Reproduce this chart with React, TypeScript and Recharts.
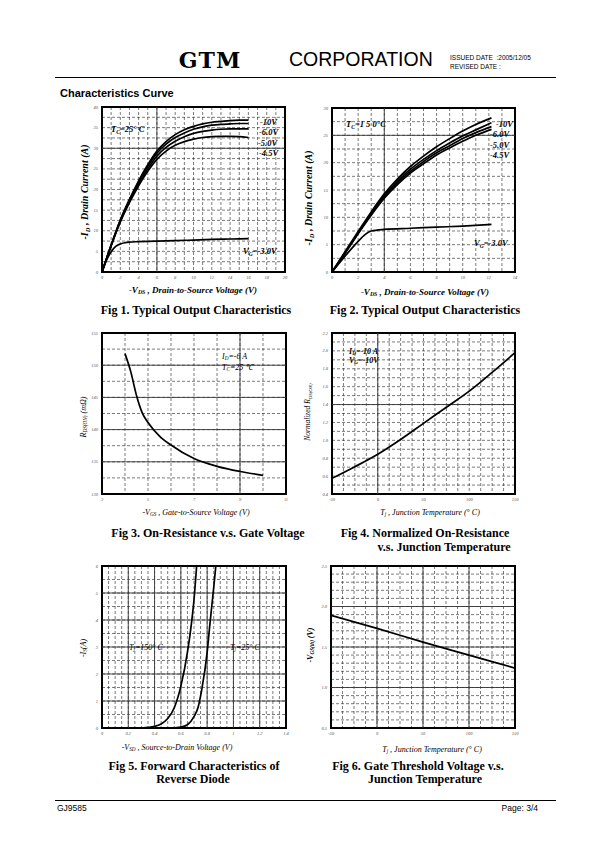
import React from "react";
import {
  LineChart,
  Line,
  XAxis,
  YAxis,
  CartesianGrid,
  ReferenceLine,
  ReferenceArea,
} from "recharts";

// Fig 1 - output characteristics, Tc = 25°C
const fig1Vds = [0, 1, 2, 3, 4, 5, 6, 7, 8, 9, 10, 11, 12, 13, 14, 15, 16];
const fig1Vg10 = [0, 6.5, 12.6, 17.6, 22.1, 26.0, 29.3, 31.6, 33.3, 34.5, 35.3, 35.9, 36.3, 36.5, 36.7, 36.8, 36.8];
const fig1Vg6 = [0, 6.5, 12.5, 17.4, 21.8, 25.6, 28.8, 31.0, 32.6, 33.7, 34.6, 35.2, 35.6, 35.8, 35.9, 36.0, 36.0];
const fig1Vg5 = [0, 6.4, 12.3, 17.1, 21.4, 25.0, 28.1, 30.2, 31.7, 32.8, 33.6, 34.1, 34.4, 34.6, 34.7, 34.7, 34.7];
const fig1Vg45 = [0, 6.4, 12.1, 16.8, 20.9, 24.4, 27.3, 29.3, 30.7, 31.6, 32.2, 32.6, 32.8, 32.9, 32.9, 32.8, 32.6];
const fig1Vg3Vds = [0, 0.5, 1, 1.5, 2, 2.5, 3, 4, 6, 8, 10, 12, 14, 16];
const fig1Vg3 = [0, 2.9, 4.9, 6.2, 6.8, 7.1, 7.25, 7.35, 7.5, 7.6, 7.75, 7.9, 8.0, 8.1];

// Fig 2 - output characteristics, Tc = 150°C
const fig2Vds = [0, 1, 2, 3, 4, 5, 6, 7, 8, 9, 10, 11, 12.2];
const fig2Vg10 = [0, 3.7, 7.4, 11.0, 14.3, 17.0, 19.3, 21.2, 22.9, 24.4, 25.8, 27.0, 28.2];
const fig2Vg6 = [0, 3.6, 7.2, 10.8, 14.0, 16.6, 18.8, 20.6, 22.2, 23.6, 24.9, 26.0, 27.3];
const fig2Vg5 = [0, 3.5, 7.1, 10.6, 13.7, 16.3, 18.4, 20.2, 21.8, 23.1, 24.4, 25.5, 26.6];
const fig2Vg45 = [0, 3.4, 7.0, 10.4, 13.5, 16.0, 18.1, 19.8, 21.4, 22.7, 23.9, 25.0, 26.1];
const fig2Vg3Vds = [0, 1, 2, 2.5, 3, 4, 6, 8, 10, 12.2];
const fig2Vg3 = [0, 2.9, 5.6, 6.8, 7.5, 7.8, 8.0, 8.2, 8.4, 8.7];

// Fig 3 - on-resistance vs gate voltage
const fig3Vgs = [4, 4.25, 4.5, 4.75, 5, 5.5, 6, 7, 8, 9, 10];
const fig3Rds = [151.8, 149.0, 145.3, 142.6, 141.1, 139.0, 137.6, 135.5, 134.3, 133.5, 132.9];

// Fig 4 - normalized on-resistance vs junction temperature
const fig4Tj = [-50, -25, 0, 25, 50, 75, 100, 125, 150];
const fig4Rn = [0.575, 0.705, 0.845, 1.01, 1.19, 1.37, 1.55, 1.76, 1.98];

// Fig 5 - reverse diode forward characteristics
const fig5Vsd150 = [0.3, 0.4, 0.45, 0.5, 0.55, 0.6, 0.65, 0.68, 0.7, 0.72];
const fig5Is150 = [0, 0.06, 0.15, 0.35, 0.75, 1.55, 2.8, 3.85, 4.75, 6.0];
const fig5Vsd25 = [0.53, 0.6, 0.65, 0.7, 0.73, 0.76, 0.8, 0.82, 0.85, 0.866];
const fig5Is25 = [0, 0.03, 0.12, 0.42, 0.75, 1.45, 2.8, 3.8, 5.2, 6.0];

// Fig 6 - gate threshold voltage vs junction temperature
const fig6Tj = [-50, 0, 50, 100, 150];
const fig6Vth = [1.89, 1.73, 1.56, 1.4, 1.24];

const range = (a: number, b: number, step: number) => {
  const out: number[] = [];
  for (let v = a; v <= b + step / 1000; v += step) out.push(Math.round(v * 1000) / 1000);
  return out;
};
const pts = (xs: number[], ys: number[]) => xs.map((x, i) => ({ x, y: ys[i] }));

const YW = 14;
const XH = 12;
const PAD = 4;

const tickStyle = {
  fontSize: 4.5,
  fontFamily: "Liberation Serif",
  fontStyle: "italic",
  fill: "#555",
};

type PlotProps = {
  left: number;
  top: number;
  right: number;
  bottom: number;
  xDomain: [number, number];
  yDomain: [number, number];
  xTicks: number[];
  yTicks: number[];
  xGrid: number[];
  yGrid: number[];
  xSolid?: number[];
  ySolid?: number[];
  xFmt?: (v: number) => string;
  yFmt?: (v: number) => string;
  series: { x: number; y: number }[][];
};

function Plot(p: PlotProps) {
  const w = p.right - p.left + YW + PAD;
  const h = p.bottom - p.top + XH + PAD;
  return (
    <div style={{ position: "absolute", left: p.left - YW, top: p.top - PAD }}>
      <LineChart width={w} height={h} margin={{ top: PAD, right: PAD, left: 0, bottom: 0 }}>
        <CartesianGrid
          stroke="#222"
          strokeWidth={0.6}
          strokeDasharray="3 2"
          horizontalValues={p.yGrid}
          verticalValues={p.xGrid}
        />
        <XAxis
          type="number"
          dataKey="x"
          domain={p.xDomain}
          ticks={p.xTicks}
          interval={0}
          allowDataOverflow
          axisLine={false}
          tickLine={false}
          tickSize={2}
          tickMargin={2}
          height={XH}
          tick={tickStyle}
          tickFormatter={p.xFmt}
        />
        <YAxis
          type="number"
          dataKey="y"
          domain={p.yDomain}
          ticks={p.yTicks}
          interval={0}
          allowDataOverflow
          axisLine={false}
          tickLine={false}
          tickSize={2}
          tickMargin={2}
          width={YW}
          tick={tickStyle}
          tickFormatter={p.yFmt}
        />
        {(p.xSolid || []).map((v) => (
          <ReferenceLine key={"x" + v} x={v} stroke="#333" strokeWidth={0.9} />
        ))}
        {(p.ySolid || []).map((v) => (
          <ReferenceLine key={"y" + v} y={v} stroke="#333" strokeWidth={0.9} />
        ))}
        <ReferenceArea
          x1={p.xDomain[0]}
          x2={p.xDomain[1]}
          y1={p.yDomain[0]}
          y2={p.yDomain[1]}
          fill="none"
          fillOpacity={0}
          stroke="#000"
          strokeWidth={2}
          ifOverflow="visible"
        />
        {p.series.map((d, i) => (
          <Line
            key={i}
            data={d}
            dataKey="y"
            type="monotone"
            stroke="#000"
            strokeWidth={1.7}
            dot={false}
            isAnimationActive={false}
          />
        ))}
      </LineChart>
    </div>
  );
}

type TxtProps = {
  x: number;
  y: number;
  size: number;
  children: React.ReactNode;
  bold?: boolean;
  italic?: boolean;
  family?: string;
  anchor?: "start" | "middle" | "end";
  rotate?: boolean;
  spacing?: number;
};

function Txt({ x, y, size, children, bold, italic, family, anchor = "middle", rotate, spacing }: TxtProps) {
  const tx = anchor === "start" ? "0" : anchor === "end" ? "-100%" : "-50%";
  return (
    <div
      style={{
        position: "absolute",
        left: x,
        top: y,
        fontSize: size,
        fontWeight: bold ? "bold" : "normal",
        fontStyle: italic ? "italic" : "normal",
        fontFamily: family || "Liberation Serif",
        letterSpacing: spacing,
        whiteSpace: "nowrap",
        lineHeight: 1,
        color: "#000",
        transform: `translate(${tx}, -50%)` + (rotate ? " rotate(-90deg)" : ""),
        transformOrigin: anchor === "middle" ? "center" : undefined,
      }}
    >
      {children}
    </div>
  );
}

const Sub = ({ children }: { children: React.ReactNode }) => (
  <span style={{ fontSize: "0.65em", verticalAlign: "-0.3em" }}>{children}</span>
);

const ann = { size: 8.5, bold: true, italic: true } as const;
const cap = { size: 12, bold: true } as const;

export default function App() {
  return (
    <div
      style={{
        position: "absolute",
        left: 0,
        top: 0,
        width: 595,
        height: 842,
        background: "#fff",
        overflow: "hidden",
      }}
    >
      {/* header */}
      <Txt x={210} y={60} size={22} bold family="DejaVu Serif" spacing={1}>
        GTM
      </Txt>
      <Txt x={289} y={60} size={19.5} anchor="start" family="Liberation Sans">
        CORPORATION
      </Txt>
      <Txt x={450} y={58} size={6.5} anchor="start" family="Liberation Sans">
        ISSUED DATE&nbsp;&nbsp;:2005/12/05
      </Txt>
      <Txt x={450} y={67} size={6.5} anchor="start" family="Liberation Sans">
        REVISED DATE :
      </Txt>
      <div style={{ position: "absolute", left: 55, top: 77, width: 501, height: 1.2, background: "#000" }} />
      <Txt x={60} y={93} size={11} bold anchor="start" family="Liberation Sans">
        Characteristics Curve
      </Txt>

      {/* Fig 1 */}
      <Plot
        left={102}
        top={107}
        right={285}
        bottom={272}
        xDomain={[0, 20]}
        yDomain={[0, 40]}
        xTicks={range(0, 20, 2)}
        yTicks={range(0, 40, 5)}
        xGrid={range(0, 20, 1)}
        yGrid={range(0, 40, 2.5)}
        xSolid={[6]}
        ySolid={[30]}
        series={[
          pts(fig1Vds, fig1Vg10),
          pts(fig1Vds, fig1Vg6),
          pts(fig1Vds, fig1Vg5),
          pts(fig1Vds, fig1Vg45),
          pts(fig1Vg3Vds, fig1Vg3),
        ]}
      />
      <Txt x={111} y={130} {...ann} anchor="start">
        T<Sub>C</Sub>=25° C
      </Txt>
      <Txt x={260} y={122} {...ann} anchor="start">-10V</Txt>
      <Txt x={259} y={132} {...ann} anchor="start">-6.0V</Txt>
      <Txt x={258} y={143} {...ann} anchor="start">-5.0V</Txt>
      <Txt x={259} y={153} {...ann} anchor="start">-4.5V</Txt>
      <Txt x={243} y={252} {...ann} anchor="start">
        V<Sub>G</Sub>=-3.0V
      </Txt>
      <Txt x={86} y={192} size={10} bold italic rotate>
        -I<Sub>D</Sub> , Drain Current (A)
      </Txt>
      <Txt x={193} y={291} size={9} bold italic>
        -V<Sub>DS</Sub> , Drain-to-Source Voltage (V)
      </Txt>
      <Txt x={196} y={310} {...cap}>Fig 1. Typical Output Characteristics</Txt>

      {/* Fig 2 */}
      <Plot
        left={332}
        top={108}
        right={515}
        bottom={272}
        xDomain={[0, 14]}
        yDomain={[0, 30]}
        xTicks={range(0, 14, 2)}
        yTicks={range(0, 30, 5)}
        xGrid={range(0, 14, 1)}
        yGrid={range(0, 30, 2.5)}
        xSolid={[4]}
        ySolid={[25]}
        series={[
          pts(fig2Vds, fig2Vg10),
          pts(fig2Vds, fig2Vg6),
          pts(fig2Vds, fig2Vg5),
          pts(fig2Vds, fig2Vg45),
          pts(fig2Vg3Vds, fig2Vg3),
        ]}
      />
      <Txt x={346} y={125} {...ann} anchor="start">
        T<Sub>C</Sub>=1 5 0°C
      </Txt>
      <Txt x={496} y={124} {...ann} anchor="start">-10V</Txt>
      <Txt x={490} y={134} {...ann} anchor="start">-6.0V</Txt>
      <Txt x={490} y={145} {...ann} anchor="start">-5.0V</Txt>
      <Txt x={490} y={155} {...ann} anchor="start">-4.5V</Txt>
      <Txt x={474} y={244} {...ann} anchor="start">
        V<Sub>G</Sub>=-3.0V
      </Txt>
      <Txt x={310} y={198} size={10} bold italic rotate>
        -I<Sub>D</Sub> , Drain Current (A)
      </Txt>
      <Txt x={425} y={293} size={9} bold italic>
        -V<Sub>DS</Sub> , Drain-to-Source Voltage (V)
      </Txt>
      <Txt x={425} y={310} {...cap}>Fig 2. Typical Output Characteristics</Txt>

      {/* Fig 3 */}
      <Plot
        left={102}
        top={333}
        right={286}
        bottom={494}
        xDomain={[3, 11]}
        yDomain={[130, 155]}
        xTicks={range(3, 11, 2)}
        yTicks={range(130, 155, 5)}
        xGrid={range(3, 11, 1)}
        yGrid={range(130, 155, 2.5)}
        xSolid={[9]}
        ySolid={[135, 140, 145, 150]}
        series={[pts(fig3Vgs, fig3Rds)]}
      />
      <Txt x={222} y={357} size={8} italic anchor="start">
        I<Sub>D</Sub>=-6 A
      </Txt>
      <Txt x={222} y={368} size={8} italic anchor="start">
        T<Sub>C</Sub>=25 ℃
      </Txt>
      <Txt x={84} y={417} size={8} italic rotate>
        R<Sub>DS(ON)</Sub> (mΩ)
      </Txt>
      <Txt x={196} y={513} size={8} italic>
        -V<Sub>GS</Sub> , Gate-to-Source Voltage (V)
      </Txt>
      <Txt x={208} y={533} {...cap}>Fig 3. On-Resistance v.s. Gate Voltage</Txt>

      {/* Fig 4 */}
      <Plot
        left={332}
        top={333}
        right={515}
        bottom={494}
        xDomain={[-50, 150]}
        yDomain={[0.4, 2.2]}
        xTicks={range(-50, 150, 50)}
        yTicks={range(0.4, 2.2, 0.2)}
        xGrid={range(-50, 150, 12.5)}
        yGrid={range(0.4, 2.2, 0.1)}
        xSolid={[0]}
        ySolid={[1.4]}
        yFmt={(v) => v.toFixed(1)}
        series={[pts(fig4Tj, fig4Rn)]}
      />
      <Txt x={349} y={352} size={8} bold italic anchor="start">
        I<Sub>D</Sub>=-10 A
      </Txt>
      <Txt x={349} y={361} size={8} bold italic anchor="start">
        V<Sub>G</Sub>=-10V
      </Txt>
      <Txt x={309} y={412} size={7.5} italic rotate>
        Normalized R<Sub>DS(ON)</Sub>
      </Txt>
      <Txt x={430} y={513} size={8} italic>
        T<Sub>j</Sub> , Junction Temperature (° C)
      </Txt>
      <Txt x={425} y={533} {...cap}>Fig 4. Normalized On-Resistance</Txt>
      <Txt x={444} y={547} {...cap}>v.s. Junction Temperature</Txt>

      {/* Fig 5 */}
      <Plot
        left={102}
        top={566}
        right={286}
        bottom={728}
        xDomain={[0, 1.4]}
        yDomain={[0, 6]}
        xTicks={range(0, 1.4, 0.2)}
        yTicks={range(0, 6, 1)}
        xGrid={range(0, 1.4, 0.05)}
        yGrid={range(0, 6, 0.5)}
        xSolid={[0.2, 0.4, 0.6, 0.8, 1.0, 1.2]}
        ySolid={[1, 2, 3, 4, 5]}
        series={[pts(fig5Vsd150, fig5Is150), pts(fig5Vsd25, fig5Is25)]}
      />
      <Txt x={129} y={648} size={8} italic anchor="start">
        T<Sub>j</Sub>=150° C
      </Txt>
      <Txt x={230} y={648} size={8} italic anchor="start">
        T<Sub>j</Sub>=25° C
      </Txt>
      <Txt x={84} y={648} size={8} italic rotate>
        -I<Sub>S</Sub>(A)
      </Txt>
      <Txt x={177} y={748} size={8} italic>
        -V<Sub>SD</Sub> , Source-to-Drain Voltage (V)
      </Txt>
      <Txt x={194} y={766} {...cap}>Fig 5. Forward Characteristics of</Txt>
      <Txt x={193} y={779} {...cap}>Reverse Diode</Txt>

      {/* Fig 6 */}
      <Plot
        left={331}
        top={566}
        right={515}
        bottom={728}
        xDomain={[-50, 150]}
        yDomain={[0.5, 2.5]}
        xTicks={range(-50, 150, 50)}
        yTicks={range(0.5, 2.5, 0.5)}
        xGrid={range(-50, 150, 12.5)}
        yGrid={range(0.5, 2.5, 0.1)}
        xSolid={[0, 50, 100]}
        ySolid={[1.0, 1.5, 2.0]}
        yFmt={(v) => v.toFixed(1)}
        series={[pts(fig6Tj, fig6Vth)]}
      />
      <Txt x={311} y={645} size={8} bold italic rotate>
        -V<Sub>GS(th)</Sub> (V)
      </Txt>
      <Txt x={432} y={750} size={8} italic>
        T<Sub>j</Sub> , Junction Temperature (° C)
      </Txt>
      <Txt x={418} y={766} {...cap}>Fig 6. Gate Threshold Voltage v.s.</Txt>
      <Txt x={425} y={779} {...cap}>Junction Temperature</Txt>

      {/* footer */}
      <div style={{ position: "absolute", left: 55, top: 800, width: 501, height: 1.2, background: "#000" }} />
      <Txt x={57} y={808} size={8.5} anchor="start" family="Liberation Sans">
        GJ9585
      </Txt>
      <Txt x={538} y={808} size={8.5} anchor="end" family="Liberation Sans">
        Page: 3/4
      </Txt>
    </div>
  );
}
